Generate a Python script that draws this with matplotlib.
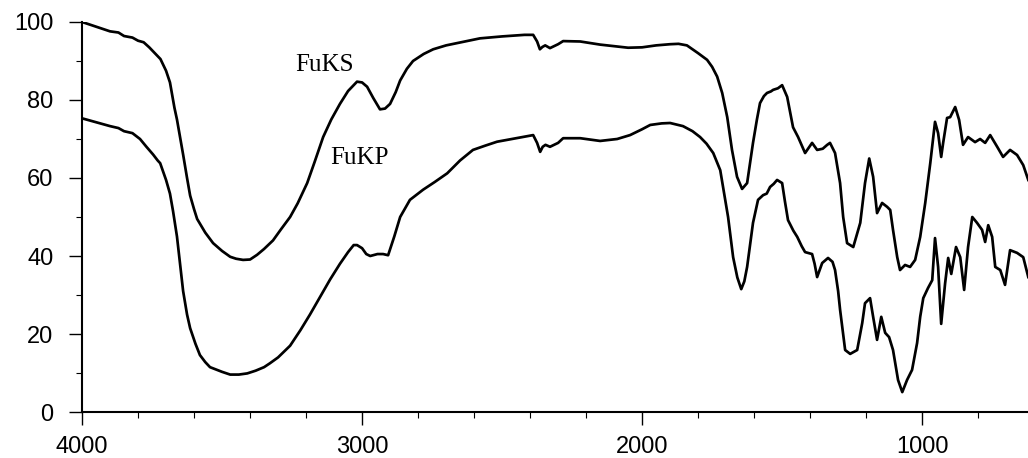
import matplotlib.pyplot as plt
from matplotlib.ticker import MultipleLocator

# wavenumber (cm-1) and transmittance (%) for each sample
fuks_wn = [4000, 3950, 3900, 3870, 3850, 3820, 3800, 3780, 3760, 3740, 3720, 3700,
           3686, 3670, 3661, 3650, 3639, 3625, 3614, 3600, 3589, 3560, 3532, 3500,
           3471, 3450, 3425, 3400, 3375, 3350, 3318, 3290, 3257, 3230, 3196, 3170,
           3139, 3110, 3079, 3050, 3018, 3000, 2982, 2960, 2936, 2918, 2900, 2880,
           2864, 2840, 2818, 2780, 2746, 2700, 2639, 2579, 2500, 2420, 2389, 2375,
           2365, 2356, 2346, 2329, 2300, 2282, 2221, 2150, 2100, 2050, 2000, 1950,
           1900, 1870, 1840, 1820, 1800, 1768, 1750, 1732, 1714, 1696, 1679, 1661,
           1643, 1625, 1604, 1590, 1579, 1565, 1554, 1540, 1532, 1515, 1500, 1482,
           1461, 1443, 1418, 1393, 1375, 1355, 1339, 1329, 1311, 1293, 1282, 1268,
           1246, 1221, 1204, 1189, 1175, 1161, 1143, 1125, 1114, 1104, 1089, 1079,
           1061, 1043, 1025, 1007, 989, 971, 954, 943, 932, 925, 911, 900, 882, 868,
           854, 836, 811, 793, 775, 757, 732, 711, 686, 661, 639, 621]
fuks_t = [100, 98.8, 97.6, 97.3, 96.4, 96.0, 95.2, 94.8, 93.5, 92.0, 90.5, 87.5,
          84.5, 78, 75, 70.5, 66, 60, 55.5, 52, 49.5, 46, 43.3, 41.3,
          39.8, 39.3, 39, 39.1, 40.3, 41.8, 44, 46.8, 50, 53.5, 58.7, 64,
          70.5, 75, 79, 82.3, 84.7, 84.5, 83.4, 80.5, 77.6, 77.8, 79, 82,
          85, 88, 90, 91.8, 93, 94, 94.9, 95.8, 96.3, 96.7, 96.7, 95,
          93, 93.6, 94, 93.3, 94.3, 95.1, 95, 94.2, 93.8, 93.4, 93.5, 94,
          94.3, 94.4, 94, 93, 92, 90.3, 88.5, 86, 81.8, 75.6, 67.2, 60.3,
          57.2, 58.7, 69, 75, 79.2, 81, 81.8, 82.2, 82.6, 83, 83.8, 80.8,
          73, 70.5, 66.4, 69, 67.2, 67.5, 68.5, 69, 66.4, 58.7, 50, 43.3,
          42.3, 48.5, 58.7, 65, 60.3, 51, 53.6, 52.6, 51.8, 46.7, 39.7, 36.4,
          37.7, 37.2, 39, 44.9, 53.6, 63.8, 74.4, 71.5, 65.4, 69, 75.4, 75.6, 78.2, 74.9,
          68.5, 70.5, 69.2, 70, 69, 71, 68, 65.4, 67.2, 65.9, 63.3, 59.5]

fukp_wn = [4000, 3950, 3900, 3870, 3850, 3820, 3793, 3770, 3746, 3730, 3721, 3700,
           3686, 3675, 3661, 3650, 3639, 3625, 3614, 3595, 3579, 3560, 3543, 3500,
           3471, 3440, 3410, 3380, 3350, 3329, 3300, 3257, 3220, 3186, 3150, 3114,
           3079, 3050, 3030, 3018, 3000, 2985, 2971, 2945, 2925, 2907, 2885, 2864,
           2829, 2782, 2740, 2696, 2650, 2604, 2560, 2518, 2450, 2389, 2375, 2364,
           2355, 2345, 2329, 2300, 2282, 2221, 2150, 2089, 2043, 2000, 1971, 1930,
           1900, 1854, 1820, 1793, 1770, 1746, 1721, 1711, 1693, 1675, 1660, 1646,
           1635, 1625, 1604, 1586, 1568, 1555, 1543, 1530, 1518, 1500, 1490, 1479,
           1460, 1446, 1430, 1418, 1393, 1384, 1375, 1357, 1336, 1320, 1311, 1300,
           1293, 1275, 1257, 1232, 1214, 1204, 1186, 1175, 1161, 1146, 1132, 1118,
           1104, 1086, 1071, 1054, 1036, 1018, 1007, 996, 979, 964, 954, 943, 932,
           918, 907, 896, 879, 864, 850, 836, 821, 804, 786, 775, 764, 750, 739,
           721, 704, 686, 661, 639, 621]
fukp_t = [75.3, 74.3, 73.3, 72.8, 72.0, 71.5, 70, 68, 66, 64.5, 63.8, 59.5,
          56, 51.5, 45, 38, 31, 25, 21.5, 17.5, 14.6, 12.8, 11.5, 10.3,
          9.6, 9.6, 9.9, 10.6, 11.5, 12.5, 14, 17, 21, 25, 29.5, 34,
          38, 41, 42.8, 42.8, 42, 40.5, 40, 40.5, 40.5, 40.2, 45, 50,
          54.4, 57, 59, 61.2, 64.5, 67.2, 68.3, 69.3, 70.2, 71, 69, 66.7,
          68, 68.5, 68, 69, 70.2, 70.2, 69.5, 70, 71, 72.5, 73.6, 74,
          74.1, 73.3, 72, 70.5, 68.8, 66.4, 62, 57.7, 50, 39.7, 34.5, 31.5,
          33.5, 37.2, 48.5, 54.4, 55.6, 56, 57.7, 58.5, 59.5, 58.7, 54, 49.2,
          46.5, 44.9, 42.5, 41, 40.5, 38, 34.6, 38.2, 39.5, 38.5, 36.4, 31,
          26.2, 15.9, 14.9, 15.9, 22.8, 27.9, 29.2, 24.4, 18.5, 24.4, 20.3, 19.2,
          15.9, 8.2, 5.1, 8.2, 10.8, 17.7, 24.4, 29.2, 31.8, 33.8, 44.6, 37.2, 22.6,
          33, 39.5, 35.4, 42.3, 39.7, 31.3, 42.3, 50, 48.5, 46.7, 43.6, 47.9, 44.9, 37.2,
          36.4, 32.6, 41.5, 40.8, 39.7, 34.6]

x_ticks = [4000, 3000, 2000, 1000]
y_ticks = [0, 20, 40, 60, 80, 100]

fig = plt.figure(figsize=(10.28, 4.58), dpi=100)
ax = fig.add_axes([0.0798, 0.1004, 0.9202, 0.8516])

ax.plot(fuks_wn, fuks_t, color="black", lw=1.95)
ax.plot(fukp_wn, fukp_t, color="black", lw=1.95)

ax.text(3135, 89, "FuKS", family="Liberation Serif", fontsize=18,
        ha="center", va="center")
ax.text(3008, 65, "FuKP", family="Liberation Serif", fontsize=18,
        ha="center", va="center")

ax.set_xlim(4000, 622)
ax.set_ylim(0, 100)
ax.set_xticks(x_ticks)
ax.set_yticks(y_ticks)
ax.xaxis.set_minor_locator(MultipleLocator(200))
ax.yaxis.set_minor_locator(MultipleLocator(10))

for side in ["top", "right"]:
    ax.spines[side].set_visible(False)
for side in ["left", "bottom"]:
    ax.spines[side].set_linewidth(1.5)
    ax.spines[side].set_clip_on(False)

ax.tick_params(which="major", direction="out", length=9.5, width=1.0,
               labelsize=17)
ax.tick_params(axis="y", which="major", pad=11)
ax.tick_params(axis="x", which="major", pad=8)
ax.tick_params(which="minor", direction="out", length=4.5, width=0.8)
for lbl in ax.get_xticklabels() + ax.get_yticklabels():
    lbl.set_family("Liberation Sans")

fig.savefig("out.png", dpi=100)
